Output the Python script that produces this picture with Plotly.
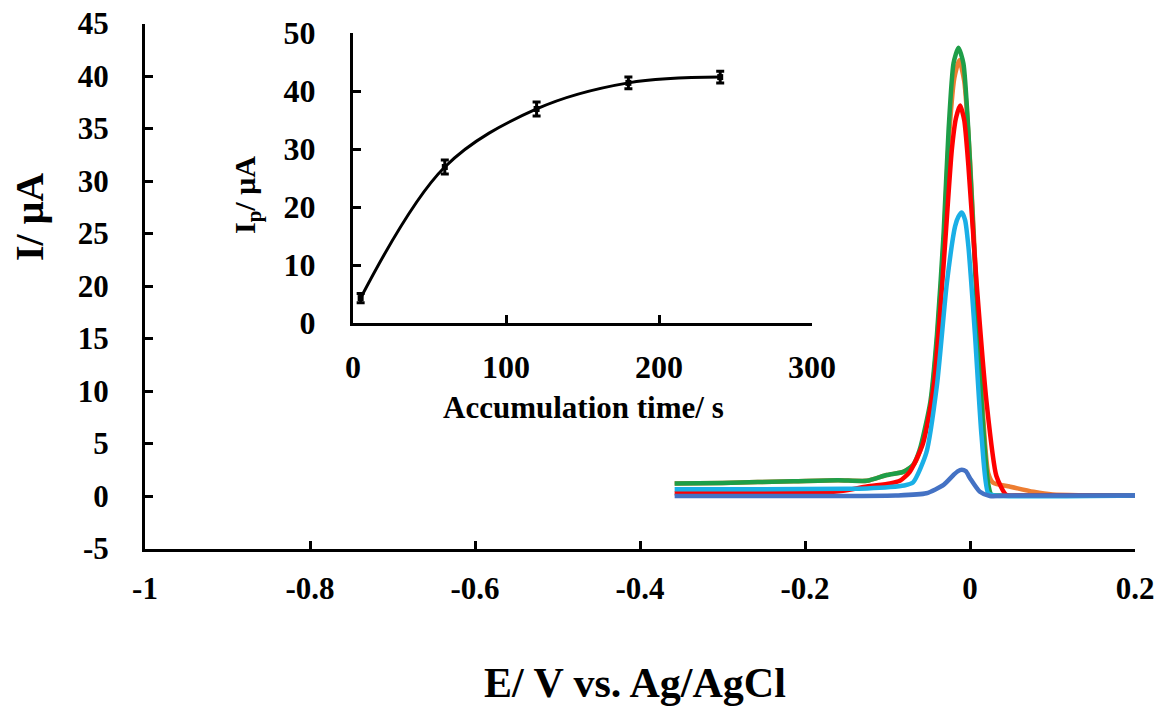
import plotly.graph_objects as go

# ---------------- main voltammograms (E in V, I in µA) ----------------
E_orange = [-0.358, -0.300, -0.214, -0.160, -0.125, -0.101, -0.081, -0.069, -0.061, -0.048, -0.040,
            -0.032, -0.026, -0.019, -0.013, -0.007, 0.000, 0.008, 0.016, 0.022, 0.028, 0.048,
            0.077, 0.100, 0.200]
I_orange = [1.2, 1.25, 1.4, 1.5, 1.45, 2.0, 2.3, 2.9, 4.2, 8.6, 14.8,
            24.0, 33.5, 39.8, 41.5, 39.5, 32.0, 19.5, 7.5, 2.2, 1.27, 0.9,
            0.4, 0.15, 0.05]

E_green = [-0.358, -0.300, -0.214, -0.160, -0.125, -0.101, -0.081, -0.069, -0.061, -0.048, -0.040,
           -0.032, -0.026, -0.020, -0.014, -0.008, -0.002, 0.006, 0.014, 0.022, 0.026, 0.035, 0.200]
I_green = [1.2, 1.25, 1.4, 1.5, 1.45, 2.0, 2.3, 2.95, 4.4, 9.0, 15.4,
           25.0, 34.8, 41.2, 42.7, 41.2, 34.8, 21.9, 9.0, 1.2, 0.1, 0.05, 0.05]

E_red = [-0.358, -0.250, -0.180, -0.154, -0.125, -0.097, -0.085, -0.073, -0.057, -0.044, -0.032,
         -0.022, -0.017, -0.012, -0.007, -0.002, 0.008, 0.020, 0.032, 0.044, 0.060, 0.200]
I_red = [0.26, 0.28, 0.35, 0.5, 0.9, 1.2, 1.45, 2.3, 5.0, 10.5, 22.0,
         33.0, 36.0, 37.2, 35.8, 31.5, 20.3, 9.0, 1.9, 0.1, 0.05, 0.05]

E_lightblue = [-0.358, -0.250, -0.150, -0.125, -0.097, -0.080, -0.069, -0.053, -0.040, -0.028,
               -0.018, -0.014, -0.010, -0.006, -0.002, 0.006, 0.014, 0.022, 0.030, 0.200]
I_lightblue = [0.65, 0.65, 0.68, 0.72, 0.85, 1.0, 1.3, 4.1, 10.6, 20.3,
               25.7, 26.6, 27.0, 26.3, 23.8, 15.4, 5.7, 0.26, 0.05, 0.05]

E_darkblue = [-0.358, -0.200, -0.090, -0.053, -0.032, -0.020, -0.015, -0.010, -0.005, 0.000,
              0.012, 0.024, 0.050, 0.200]
I_darkblue = [0.0, 0.0, 0.05, 0.26, 1.06, 2.0, 2.35, 2.5, 2.35, 1.7,
              0.4, 0.0, 0.05, 0.05]

# ---------------- inset: peak current vs accumulation time ----------------
t_acc = [5, 60, 120, 180, 240]
Ip = [4.3, 26.9, 36.9, 41.4, 42.4]
Ip_err = [0.8, 1.2, 1.2, 1.0, 1.0]

# ---------------- tick labels ----------------
x_tickvals = [-1, -0.8, -0.6, -0.4, -0.2, 0, 0.2]
x_ticktext = ["-1", "-0.8", "-0.6", "-0.4", "-0.2", "0", "0.2"]
y_tickvals = [-5, 0, 5, 10, 15, 20, 25, 30, 35, 40, 45]
y_ticktext = ["-5", "0", "5", "10", "15", "20", "25", "30", "35", "40", "45"]
x2_tickvals = [0, 100, 200, 300]
x2_ticktext = ["0", "100", "200", "300"]
y2_tickvals = [0, 10, 20, 30, 40, 50]
y2_ticktext = ["0", "10", "20", "30", "40", "50"]

FONT = "Liberation Serif"
W, H = 1160, 707

fig = go.Figure()

series = [
    (E_orange, I_orange, "#ED7D31"),
    (E_green, I_green, "#1E9E48"),
    (E_red, I_red, "#FF0000"),
    (E_lightblue, I_lightblue, "#1AAFE6"),
    (E_darkblue, I_darkblue, "#4472C4"),
]
for ex, iy, col in series:
    fig.add_trace(go.Scatter(x=ex, y=iy, mode="lines", xaxis="x", yaxis="y",
                             line=dict(color=col, width=4.5, shape="spline", smoothing=0.6),
                             showlegend=False, hoverinfo="skip"))

fig.add_trace(go.Scatter(x=t_acc, y=Ip, mode="lines+markers", xaxis="x2", yaxis="y2",
                         line=dict(color="black", width=3, shape="spline", smoothing=1.0),
                         marker=dict(color="black", size=6, symbol="square"),
                         error_y=dict(type="data", array=Ip_err, visible=True,
                                      color="black", thickness=3, width=4),
                         showlegend=False, hoverinfo="skip"))

axis_common = dict(showgrid=False, zeroline=False, showline=True, linecolor="black",
                   linewidth=3, ticks="inside", tickcolor="black", tickwidth=3, ticklen=8,
                   mirror=False, fixedrange=True, automargin=False)

fig.update_layout(
    width=W, height=H,
    margin=dict(l=0, r=0, t=0, b=0, autoexpand=False),
    paper_bgcolor="white", plot_bgcolor="rgba(0,0,0,0)",
    font=dict(family=FONT, color="black", weight="bold"),
    showlegend=False,
    xaxis=dict(domain=[145 / W, 1135 / W], range=[-1, 0.2], anchor="y",
               tickmode="array", tickvals=x_tickvals, ticktext=x_ticktext,
               tickfont=dict(size=31, family=FONT, weight="bold"), ticklabelstandoff=10,
               **axis_common),
    yaxis=dict(domain=[(H - 548.5) / H, (H - 23.5) / H], range=[-5, 45], anchor="x",
               tickmode="array", tickvals=y_tickvals, ticktext=y_ticktext,
               tickfont=dict(size=31, family=FONT, weight="bold"), ticklabelstandoff=27,
               **axis_common),
    xaxis2=dict(domain=[353 / W, 812 / W], range=[0, 300], anchor="y2",
                tickmode="array", tickvals=x2_tickvals, ticktext=x2_ticktext,
                tickfont=dict(size=32, family=FONT, weight="bold"), ticklabelstandoff=14,
                **axis_common),
    yaxis2=dict(domain=[(H - 323) / H, (H - 33) / H], range=[0, 50], anchor="x2",
                tickmode="array", tickvals=y2_tickvals, ticktext=y2_ticktext,
                tickfont=dict(size=32, family=FONT, weight="bold"), ticklabelstandoff=28,
                **axis_common),
    annotations=[
        dict(text="E/ V vs. Ag/AgCl", xref="paper", yref="paper", x=635 / W, y=(H - 683) / H,
             showarrow=False, font=dict(size=42, family=FONT, weight="bold"),
             xanchor="center", yanchor="middle"),
        dict(text="I/ μA", xref="paper", yref="paper", x=29 / W, y=(H - 217) / H,
             showarrow=False, textangle=-90, font=dict(size=40, family=FONT, weight="bold"),
             xanchor="center", yanchor="middle"),
        dict(text="Accumulation time/ s", xref="paper", yref="paper", x=583 / W, y=(H - 407) / H,
             showarrow=False, font=dict(size=31, family=FONT, weight="bold"),
             xanchor="center", yanchor="middle"),
        dict(text="I<sub>p</sub>/ μA", xref="paper", yref="paper", x=247 / W, y=(H - 195) / H,
             showarrow=False, textangle=-90, font=dict(size=30, family=FONT, weight="bold"),
             xanchor="center", yanchor="middle"),
    ],
)

fig.write_html("out.html")
